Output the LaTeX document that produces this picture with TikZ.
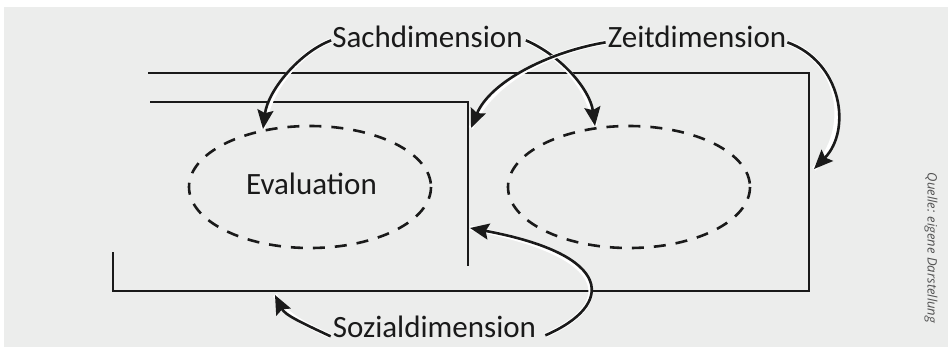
\documentclass[tikz,border=0pt]{standalone}
\usepackage{fontspec}
\setmainfont{Carlito}
\newfontfamily\srcfont{Open Sans}
\usetikzlibrary{arrows.meta}
\definecolor{bg}{HTML}{ECEDEC}
\definecolor{ink}{HTML}{1A1A1A}
\tikzset{
  wall/.style={draw=ink,line width=2.4pt},
  zone/.style={draw=ink,line width=2.6pt,dash pattern=on 12pt off 10pt},
  lbl/.style={font=\fontsize{31}{31}\selectfont,text=ink,inner sep=0pt,anchor=base},
  conn/.style={draw=ink,line width=2.6pt,-{Stealth[length=19pt,width=16pt,inset=3pt]},
    preaction={draw=white,line width=4.6pt,-}},
}
\begin{document}
\begin{tikzpicture}[x=1pt,y=-1pt]
\useasboundingbox (0,0) rectangle (948,349);
\fill[white] (0,0) rectangle (948,349);
\fill[bg] (4,7) rectangle (948,347);
% walls
\draw[wall] (148,73) -- (809,73) -- (809,291) -- (113,291) -- (113,252);
\draw[wall] (150,102) -- (468,102) -- (468,266);
% zones
\draw[zone] (310,187) ellipse [x radius=121,y radius=61];
\draw[zone] (629,187) ellipse [x radius=121,y radius=61];
\node[lbl] (eval) at (311.5,194) {Evaluation};
% labels
\node[lbl] (sach) at (427.5,47) {Sachdimension};
\node[lbl] (zeit) at (697,47) {Zeitdimension};
\node[lbl] (sozial) at (434.5,337) {Sozialdimension};
\node[font=\srcfont\itshape\fontsize{13}{13}\selectfont,text=black!68,rotate=-90,inner sep=0pt] (quelle) at (931,248) {Quelle: eigene Darstellung};
% targets
\coordinate (tEval) at (263,129);
\coordinate (tRight) at (595,126);
\coordinate (tInnerTop) at (471,128);
\coordinate (tOuterRight) at (814,169);
\coordinate (tBottom) at (275,295);
\coordinate (tInnerLow) at (470,228);
% connectors
\draw[conn] ([xshift=-1pt,yshift=-4pt]sach.west) .. controls (300,52) and (268,90) .. (tEval);
\draw[conn] ([xshift=3pt,yshift=-4pt]sach.east) .. controls (562,56) and (590,90) .. (tRight);
\draw[conn] ([xshift=-2pt,yshift=-6pt]zeit.west) .. controls (548,52) and (490,82) .. (tInnerTop);
\draw[conn] ([xshift=1pt,yshift=-6pt]zeit.east) .. controls (842,62) and (852,130) .. (tOuterRight);
\draw[conn] ([xshift=-2pt,yshift=-10pt]sozial.west) .. controls (300,322) and (285,315) .. (tBottom);
\draw[conn] ([xshift=9pt,yshift=-9pt]sozial.east) .. controls (615,305) and (615,255) .. (tInnerLow);
\end{tikzpicture}
\end{document}
